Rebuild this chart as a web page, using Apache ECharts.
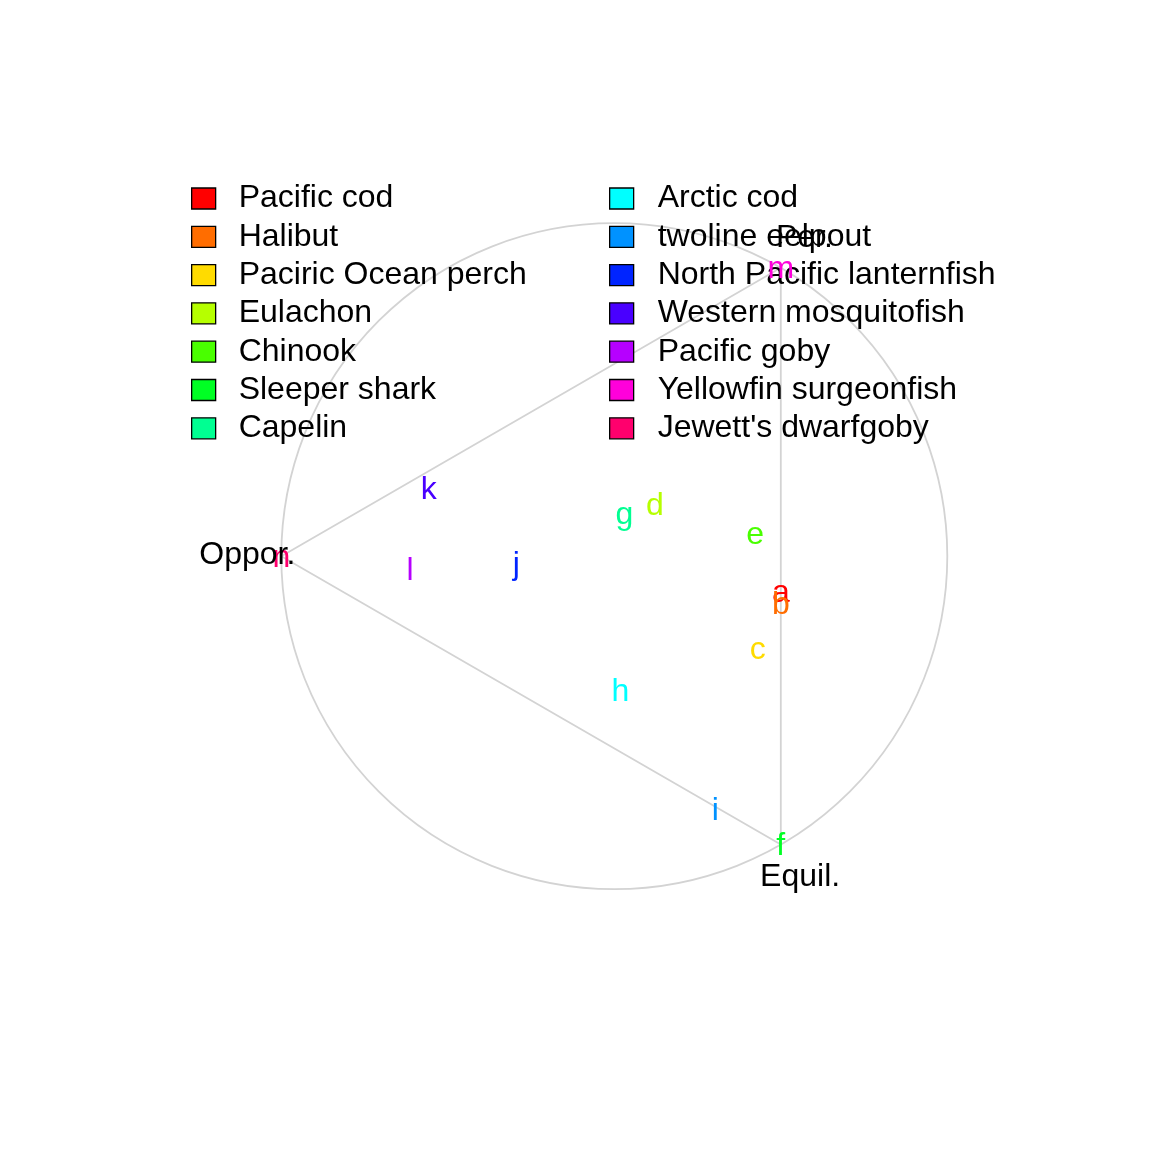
<!DOCTYPE html>
<html>
<head>
<meta charset="utf-8">
<script src="https://cdn.jsdelivr.net/npm/echarts@6/dist/echarts.min.js"></script>
<style>
html,body{margin:0;padding:0;background:#fff;}
#chart{width:1152px;height:1152px;}
</style>
</head>
<body>
<div id="chart"></div>
<script>
// ---- data ----
const species = ["Pacific cod","Halibut","Paciric Ocean perch","Eulachon","Chinook","Sleeper shark","Capelin",
  "Arctic cod","twoline eelpout","North Pacific lanternfish","Western mosquitofish","Pacific goby","Yellowfin surgeonfish","Jewett's dwarfgoby"];
const letters = ["a","b","c","d","e","f","g","h","i","j","k","l","m","n"];
const colors = ["#FF0000","#FF6D00","#FFDB00","#B6FF00","#49FF00","#00FF24","#00FF92",
  "#00FFFF","#0092FF","#0024FF","#4900FF","#B600FF","#FF00DB","#FF006D"];
// positions in the triangle plane (circle of radius 1 centred at 0,0)
const xs = [0.500, 0.500, 0.431, 0.122, 0.423, 0.500, 0.030, 0.018, 0.303, -0.294, -0.557, -0.613, 0.500, -1.000];
const ys = [-0.108, -0.143, -0.279, 0.154, 0.069, -0.866, 0.129, -0.404, -0.762, -0.021, 0.202, -0.039, 0.866, 0.000];
// triangle vertices (Per., Oppor., Equil.)
const triX = [0.5, -1.0, 0.5, 0.5];
const triY = [0.866, 0.0, -0.866, 0.866];
// vertex labels
const vLabels = ["Per.", "Oppor.", "Equil."];
const vLabelX = [0.571, -1.102, 0.558];
const vLabelY = [0.964, 0.012, -0.955];

const FONT = "'Liberation Sans', Arial, Helvetica, sans-serif";
const chart = echarts.init(document.getElementById('chart'), null, {renderer:'canvas'});

const series = [];
// circle
series.push({
  type:'custom', silent:true, z:1,
  data:[[0,0,1]],
  renderItem:function(params, api){
    const c = api.coord([api.value(0), api.value(1)]);
    const r = api.size([api.value(2), api.value(2)])[0];
    return {type:'circle', shape:{cx:c[0], cy:c[1], r:r},
      style:{fill:'none', stroke:'#d3d3d3', lineWidth:1.8}};
  }
});
// triangle
series.push({
  type:'line', silent:true, z:1, symbol:'none',
  data: triX.map((x,i)=>[x, triY[i]]),
  lineStyle:{color:'#d3d3d3', width:1.8}
});
// species letters
species.forEach((name, i)=>{
  series.push({
    type:'custom', name:name, z:5,
    itemStyle:{color:colors[i]},
    data:[[xs[i], ys[i]]],
    renderItem:function(params, api){
      const p = api.coord([api.value(0), api.value(1)]);
      return {type:'text', x:p[0], y:p[1]+1.5,
        style:{text:letters[i], fill:colors[i], font:'32px '+FONT, align:'center', verticalAlign:'middle'}};
    }
  });
});
// vertex labels
series.push({
  type:'custom', silent:true, z:6,
  data: vLabels.map((t,i)=>[vLabelX[i], vLabelY[i], i]),
  renderItem:function(params, api){
    const p = api.coord([api.value(0), api.value(1)]);
    return {type:'text', x:p[0], y:p[1]+2.5,
      style:{text:vLabels[api.value(2)], fill:'#000', font:'32px '+FONT, align:'center', verticalAlign:'middle'}};
  }
});

const legendCommon = {
  orient:'vertical', icon:'rect', itemWidth:24, itemHeight:21, itemGap:6.3, z:2,
  selectedMode:false,
  itemStyle:{borderColor:'#000', borderWidth:1.3},
  textStyle:{fontSize:32, fontFamily:FONT, color:'#000'}
};

chart.setOption({
  animation:false,
  backgroundColor:'#fff',
  grid:{left:281.3, top:223.2, width:666, height:666, containLabel:false},
  xAxis:{type:'value', min:-1, max:1, show:false},
  yAxis:{type:'value', min:-1, max:1, show:false},
  legend:[
    Object.assign({}, legendCommon, {left:186, top:177.5, data:species.slice(0,7),
      textStyle:Object.assign({}, legendCommon.textStyle, {padding:[0,0,0,18]})}),
    Object.assign({}, legendCommon, {left:604, top:177.5, data:species.slice(7),
      textStyle:Object.assign({}, legendCommon.textStyle, {padding:[0,0,0,19]})})
  ],
  series:series
});
</script>
</body>
</html>
